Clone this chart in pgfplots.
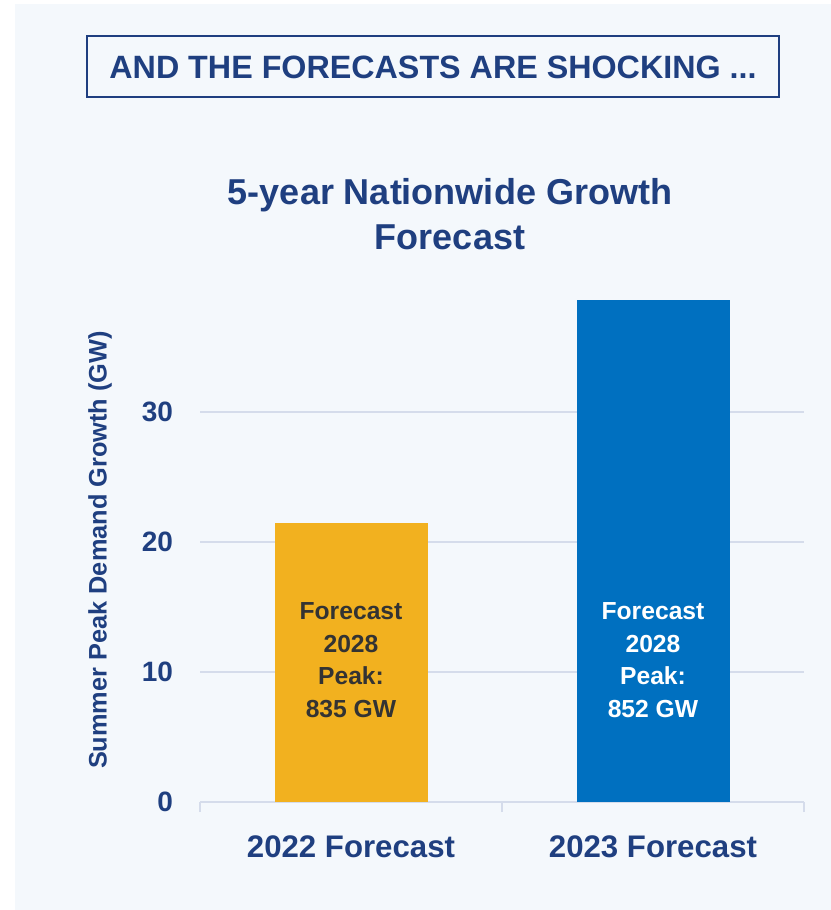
\documentclass[border=0pt]{standalone}
\usepackage{fontspec}
\setmainfont{Liberation Sans}
\usepackage{pgfplots}
\pgfplotsset{compat=1.18}
\definecolor{bgc}{HTML}{F4F8FC}
\definecolor{navy}{HTML}{1F3F80}
\definecolor{gridc}{HTML}{D5DCEB}
\definecolor{ybarc}{HTML}{F2B11F}
\definecolor{bbarc}{HTML}{0070C0}
\definecolor{dtext}{HTML}{333333}
\begin{document}
\begin{tikzpicture}
\begin{scope}[x=0.75pt,y=-0.75pt]
\fill[white] (0,0) rectangle (831,910);
\fill[bgc] (15,4) rectangle (831,910);
\draw[navy,line width=1.6pt,fill=bgc] (87,36) rectangle (779,97);
\node[anchor=base,text=navy,font=\fontsize{24.2}{29}\selectfont\bfseries,inner sep=0] at (433,78) {AND THE FORECASTS ARE SHOCKING ...};
\node[anchor=base,text=navy,font=\fontsize{27}{32}\selectfont\bfseries,inner sep=0] at (450,204) {5-year Nationwide Growth};
\node[anchor=base,text=navy,font=\fontsize{27}{32}\selectfont\bfseries,inner sep=0] at (450,249) {Forecast};
\end{scope}
\begin{axis}[
  at={(150pt,-601.5pt)}, anchor=south west,
  scale only axis, width=453pt, height=390pt,
  xmin=-0.5, xmax=1.5, ymin=0, ymax=40,
  axis x line*=bottom, axis y line*=left,
  y axis line style={draw=none},
  x axis line style={gridc,line width=1.2pt},
  ytick={0,10,20,30}, ymajorgrids,
  grid style={gridc,line width=1pt},
  major tick length=0pt,
  /pgf/number format/assume math mode=true,
  xtick={0,1}, xticklabels={2022 Forecast,2023 Forecast},
  extra x ticks={-0.5,0.5,1.5}, extra x tick labels={},
  extra x tick style={major tick length=7.5pt, tick align=outside, tick style={gridc,line width=1pt}, xmajorgrids=false},
  yticklabel style={font=\fontsize{21}{25}\selectfont\bfseries, text=navy, inner sep=0pt, xshift=-20pt},
  xticklabel style={font=\fontsize{23.4}{28}\selectfont\bfseries, text=navy, inner sep=0pt, anchor=base, yshift=-41.25pt},
  ylabel={Summer Peak Demand Growth (GW)},
  ylabel style={at={(axis description cs:-0.1656,0.4846)}, anchor=center, font=\fontsize{19}{23}\selectfont\bfseries, text=navy},
  ybar, bar width=114.75pt,
]
\addplot[ybar, bar shift=0pt, fill=ybarc, draw=none] coordinates {(0,21.5)};
\addplot[ybar, bar shift=0pt, fill=bbarc, draw=none] coordinates {(1,38.6)};
\node[anchor=base,text=dtext,font=\fontsize{18.5}{23}\selectfont\bfseries,inner sep=0] at (axis cs:0,14.04) {Forecast};
\node[anchor=base,text=dtext,font=\fontsize{18.5}{23}\selectfont\bfseries,inner sep=0] at (axis cs:0,11.51) {2028};
\node[anchor=base,text=dtext,font=\fontsize{18.5}{23}\selectfont\bfseries,inner sep=0] at (axis cs:0,9.06) {Peak:};
\node[anchor=base,text=dtext,font=\fontsize{18.5}{23}\selectfont\bfseries,inner sep=0] at (axis cs:0,6.52) {835 GW};
\node[anchor=base,text=white,font=\fontsize{18.5}{23}\selectfont\bfseries,inner sep=0] at (axis cs:1,14.04) {Forecast};
\node[anchor=base,text=white,font=\fontsize{18.5}{23}\selectfont\bfseries,inner sep=0] at (axis cs:1,11.51) {2028};
\node[anchor=base,text=white,font=\fontsize{18.5}{23}\selectfont\bfseries,inner sep=0] at (axis cs:1,9.06) {Peak:};
\node[anchor=base,text=white,font=\fontsize{18.5}{23}\selectfont\bfseries,inner sep=0] at (axis cs:1,6.52) {852 GW};
\end{axis}
\end{tikzpicture}
\end{document}
